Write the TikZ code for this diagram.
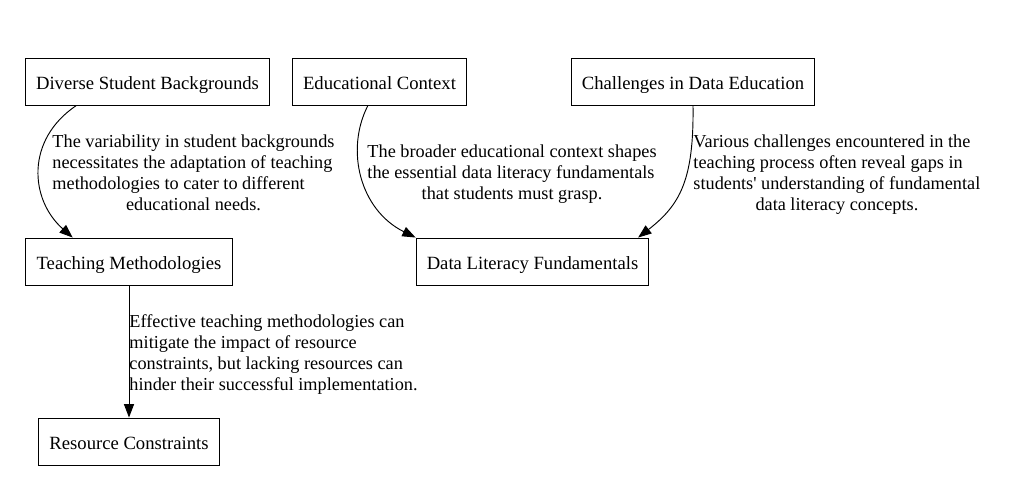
\documentclass[tikz,border=0pt]{standalone}
\usepackage{fontspec}
\setmainfont{Liberation Serif}
\usepackage{tikz}
\usetikzlibrary{arrows.meta,calc}

\begin{document}
\begin{tikzpicture}[x=0.75pt,y=-0.75pt,line width=0.7pt,->,>={Triangle[length=10pt,width=7.5pt]},
  box/.style={draw,rectangle,minimum height=35.25pt,inner xsep=8pt,text height=12.6pt,text depth=0pt,font=\fontsize{14}{16}\selectfont},
  lbl/.style={inner sep=0pt,anchor=west,font=\fontsize{13.7}{15.75}\selectfont}]
 		\useasboundingbox (0,0) rectangle (1011,493);
 		\node[box]  (DSB)  at (147.5,81.5)  {Diverse Student Backgrounds};
 		\node[box]  (EC)   at (379.5,81.5)  {Educational Context};
 		\node[box]  (CDE)  at (693,81.5)    {Challenges in Data Education};
 		\node[box]  (TM)   at (129,261.5)   {Teaching Methodologies};
 		\node[box]  (DLF)  at (532.5,261.5) {Data Literacy Fundamentals};
 		\node[box]  (RC)   at (129,441.5)   {Resource Constraints};

 		\node[lbl]  (L1)   at (52,175)    {\begin{tabular}{@{}l@{}}The variability in student backgrounds\\necessitates the adaptation of teaching\\methodologies to cater to different\\\multicolumn{1}{@{}c@{}}{educational needs.}\end{tabular}};
 		\node[lbl]  (L2)   at (367,174)   {\begin{tabular}{@{}l@{}}The broader educational context shapes\\the essential data literacy fundamentals\\\multicolumn{1}{@{}c@{}}{that students must grasp.}\end{tabular}};
 		\node[lbl]  (L3)   at (693,174.5) {\begin{tabular}{@{}l@{}}Various challenges encountered in the\\teaching process often reveal gaps in\\students\textquotesingle{} understanding of fundamental\\\multicolumn{1}{@{}c@{}}{data literacy concepts.}\end{tabular}};
 		\node[lbl]  (L4)   at (129,354.5) {\begin{tabular}{@{}l@{}}Effective teaching methodologies can\\mitigate the impact of resource\\constraints, but lacking resources can\\hinder their successful implementation.\end{tabular}};

 		\draw ($(DSB.south west)!0.21!(DSB.south east)$) .. controls (25,140) and (30,200) .. ($(TM.north west)!0.228!(TM.north east)$);
 		\draw ($(EC.south west)!0.434!(EC.south east)$) .. controls (345,150) and (360,210) .. (DLF.north west);
 		\draw (CDE.south) .. controls (694,180) and (680,205) .. ($(DLF.north west)!0.952!(DLF.north east)$);
 		\draw (TM) -- (RC);
\end{tikzpicture}
\end{document}
